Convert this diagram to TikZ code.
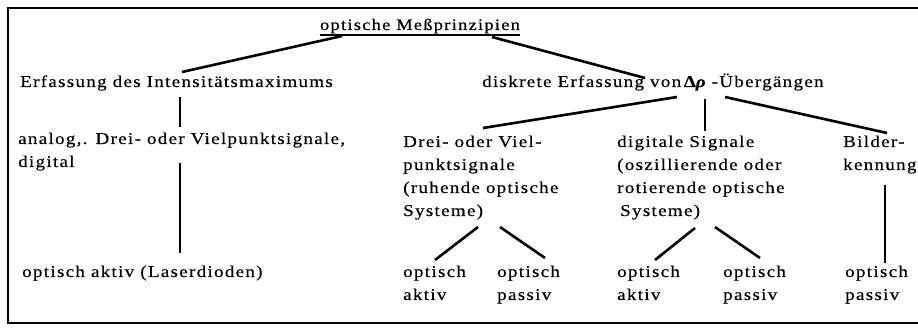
\documentclass[tikz,border=0pt]{standalone}
\usepackage{fontspec}
\setmainfont{Liberation Serif}[FakeStretch=1.15,LetterSpace=8,FakeBold=0.4]
\usetikzlibrary{calc}
\tikzset{
  txt/.style={inner sep=0pt, anchor=base west, align=left, font=\fontsize{16.5}{23}\selectfont},
  conn/.style={line width=2.6pt},
  frame/.style={line width=1.8pt}
}
\begin{document}
\begin{tikzpicture}[x=1pt,y=-1pt]
\useasboundingbox (0,0) rectangle (918,328);
% frame
\draw[frame] (919,8) -- (8,8) -- (8,323) -- (919,323);
% nodes (base = baseline of the last line)
\node[txt, anchor=base, font=\fontsize{16}{23}\selectfont] (title) at (420,30) {optische Meßprinzipien};
\node[txt] (erf) at (20,87) {Erfassung des Intensitätsmaximums};
\node[txt] (disk) at (482,87) {diskrete Erfassung von\,{\bfseries Δ\itshape ρ} -Übergängen};
\node[txt] (analog) at (18,167) {analog,. Drei- oder Vielpunktsignale,\\digital};
\node[txt] (laser) at (22,277) {optisch aktiv (Laserdioden)};
\node[txt] (drei) at (403,216) {Drei- oder Viel-\\punktsignale\\(ruhende optische\\Systeme)};
\node[txt] (digi) at (617,216) {digitale Signale\\(oszillierende oder\\rotierende optische\\\hspace{3pt}Systeme)};
\node[txt] (bild) at (843,170) {Bilder-\\kennung};
\node[txt] (oa1) at (403,300) {optisch\\aktiv};
\node[txt] (op1) at (497,300) {optisch\\passiv};
\node[txt] (oa2) at (617,300) {optisch\\aktiv};
\node[txt] (op2) at (723,300) {optisch\\passiv};
\node[txt] (op3) at (845,300) {optisch\\passiv};
% underline of title
\draw[line width=1.6pt] ($(title.base west)+(0,5)$) -- ($(title.base east)+(0,5)$);
% connectors
\draw[conn] ($(title.base)+(-78,6)$) -- ($(erf.base west)+(162,-15)$);
\draw[conn] ($(title.base)+(72,7)$) -- ($(disk.base west)+(163,-9)$);
\draw[conn] ($(erf.base west)+(160,10)$) -- ($(analog.base west)+(162,-40)$);
\draw[conn] ($(analog.base west)+(162,-4)$) -- ($(laser.base west)+(158,-24)$);
\draw[conn] ($(disk.base west)+(195,10)$) -- ($(drei.base west)+(80,-88)$);
\draw[conn] ($(disk.base west)+(223,12)$) -- ($(digi.base west)+(88,-85)$);
\draw[conn] ($(disk.base west)+(243,10)$) -- ($(bild.base west)+(44,-37)$);
\draw[conn] ($(drei.base west)+(75,11)$) -- ($(oa1.base west)+(32,-40)$);
\draw[conn] ($(drei.base west)+(97,11)$) -- ($(op1.base west)+(48,-42)$);
\draw[conn] ($(digi.base west)+(78,12)$) -- ($(oa2.base west)+(38,-40)$);
\draw[conn] ($(digi.base west)+(98,11)$) -- ($(op2.base west)+(37,-42)$);
\draw[conn] ($(bild.base west)+(42,15)$) -- ($(op3.base west)+(40,-37)$);
\end{tikzpicture}
\end{document}
